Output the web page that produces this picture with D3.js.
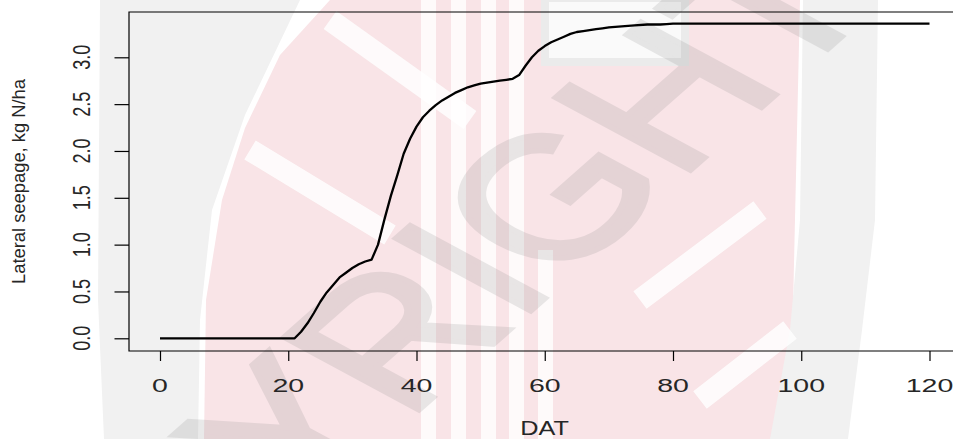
<!DOCTYPE html>
<html>
<head>
<meta charset="utf-8">
<script src="https://cdn.jsdelivr.net/npm/d3@7/dist/d3.min.js"></script>
<style>
  html, body { margin: 0; padding: 0; background: #fff; }
  svg { display: block; }
  text { font-family: "Liberation Sans", Arial, sans-serif; fill: #262626; }
</style>
</head>
<body>
<div id="chart"></div>
<script>
// Lateral seepage vs days after transplanting (DAT)
const days = [0, 21, 22, 23, 24, 25, 26, 27, 28, 29, 30, 31, 32, 33, 34, 35, 36, 37, 38, 39,
  40, 41, 42, 43, 44, 45, 46, 47, 48, 49, 50, 51, 52, 53, 54, 55, 56, 57, 58, 59,
  60, 61, 62, 63, 64, 65, 66, 67, 68, 69, 70, 72, 74, 76, 78, 79, 80, 120];
const seepage = [0, 0, 0.07, 0.16, 0.27, 0.39, 0.49, 0.57, 0.65, 0.70, 0.75, 0.79, 0.82, 0.84, 1.00, 1.27, 1.52, 1.74, 1.97, 2.13,
  2.26, 2.36, 2.43, 2.49, 2.54, 2.58, 2.62, 2.65, 2.68, 2.70, 2.72, 2.73, 2.74, 2.75, 2.76, 2.77, 2.81, 2.91, 3.00, 3.07,
  3.12, 3.16, 3.19, 3.22, 3.25, 3.27, 3.28, 3.29, 3.30, 3.31, 3.32, 3.33, 3.34, 3.35, 3.35, 3.355, 3.36, 3.36];
const xTicks = [0, 20, 40, 60, 80, 100, 120];
const yTicks = [0, 0.5, 1, 1.5, 2, 2.5, 3];
const yTickLabels = ["0.0", "0.5", "1.0", "1.5", "2.0", "2.5", "3.0"];

const W = 953, H = 439;
const box = { left: 129, top: 12, right: 975, bottom: 351 };

const svg = d3.select("#chart").append("svg")
  .attr("width", W).attr("height", H);

// --- faint copyright watermark behind the plot ---
const wm = svg.append("g").attr("class", "watermark");
const pink = "#f9e4e7", grey = "#f1f1f1";
wm.append("path").attr("fill", grey)
  .attr("d", "M100,0 L300,0 L245,115 L212,210 L200,320 L198,439 L104,439 L98,300 Z");
wm.append("path").attr("fill", pink)
  .attr("d", "M204,439 L206,300 L222,200 L245,128 L280,55 L330,0 L800,0 L790,439 Z");
wm.append("path").attr("fill", grey)
  .attr("d", "M803,0 L878,0 L875,220 L862,330 L848,439 L770,439 L790,330 L800,220 Z");
// white diagonal stripes in the shield
[[250, 150, 390, 235], [330, 20, 470, 120], [640, 300, 760, 210], [700, 400, 790, 330]].forEach(s => {
  wm.append("line").attr("x1", s[0]).attr("y1", s[1]).attr("x2", s[2]).attr("y2", s[3])
    .attr("stroke", "#fff").attr("stroke-width", 22).attr("opacity", 0.85);
});
// white vertical stripes
[421, 451, 481, 509].forEach(x0 => {
  wm.append("rect").attr("x", x0).attr("y", 0).attr("width", 15).attr("height", H)
    .attr("fill", "#fff").attr("opacity", 0.8);
});
wm.append("rect").attr("x", 538).attr("y", 250).attr("width", 15).attr("height", H - 250)
  .attr("fill", "#fff").attr("opacity", 0.8);
// top icon area
wm.append("rect").attr("x", 545).attr("y", -2).attr("width", 140).attr("height", 64)
  .attr("fill", "#fafafa").attr("stroke", "#ebebeb").attr("stroke-width", 8);
wm.append("g").style("opacity", 0.18)
  .append("text")
  .attr("transform", "translate(-38,25) scale(1.45,1) translate(321,377) rotate(-52)")
  .attr("text-anchor", "middle")
  .style("font-size", "171px")
  .style("fill", "#888").style("stroke", "#888").style("stroke-width", 5)
  .text("COPYRIGHT");

// --- scales ---
const x = d3.scaleLinear().domain([0, 120]).range([160, 929.5]);
const y = d3.scaleLinear().domain([0, 3]).range([338.3, 57.3]);

// plot frame
svg.append("path")
  .attr("d", `M${box.right},${box.top} H${box.left} V${box.bottom} H${box.right}`)
  .attr("fill", "none").attr("stroke", "#000").attr("stroke-width", 1.2);

// x axis ticks
const xAxis = svg.append("g").attr("transform", `translate(0,${box.bottom})`)
  .call(d3.axisBottom(x).tickValues(xTicks).tickSize(10).tickFormat(""));
xAxis.select(".domain").remove();
xAxis.selectAll("line").attr("stroke", "#000").attr("stroke-width", 1.2);
svg.append("g").selectAll("text").data(xTicks).join("text")
  .attr("transform", d => `translate(${x(d)},391.5) scale(1.5,1)`)
  .attr("text-anchor", "middle")
  .style("font-size", "19px")
  .text(d => d);

// y axis ticks
const yAxis = svg.append("g").attr("transform", `translate(${box.left},0)`)
  .call(d3.axisLeft(y).tickValues(yTicks).tickSize(14.5).tickFormat(""));
yAxis.select(".domain").remove();
yAxis.selectAll("line").attr("stroke", "#000").attr("stroke-width", 1.2);
svg.append("g").selectAll("text").data(yTicks).join("text")
  .attr("transform", d => `translate(90,${y(d)}) scale(1.26,0.95) rotate(-90)`)
  .attr("text-anchor", "middle")
  .style("font-size", "19px")
  .text((d, i) => yTickLabels[i]);

// axis titles
svg.append("text")
  .attr("transform", "translate(544.5,434.5) scale(1.33,1.05)")
  .attr("text-anchor", "middle")
  .style("font-size", "19px")
  .text("DAT");
svg.append("text")
  .attr("transform", `translate(25,${(box.top + box.bottom) / 2}) scale(1,1.02) rotate(-90)`)
  .attr("text-anchor", "middle")
  .style("font-size", "18px")
  .text("Lateral seepage, kg N/ha");

// the curve
const line = d3.line().x((d, i) => x(days[i])).y(d => y(d));
svg.append("path").datum(seepage)
  .attr("d", line)
  .attr("fill", "none").attr("stroke", "#000")
  .attr("stroke-width", 2.3).attr("stroke-linejoin", "round");
</script>
</body>
</html>
